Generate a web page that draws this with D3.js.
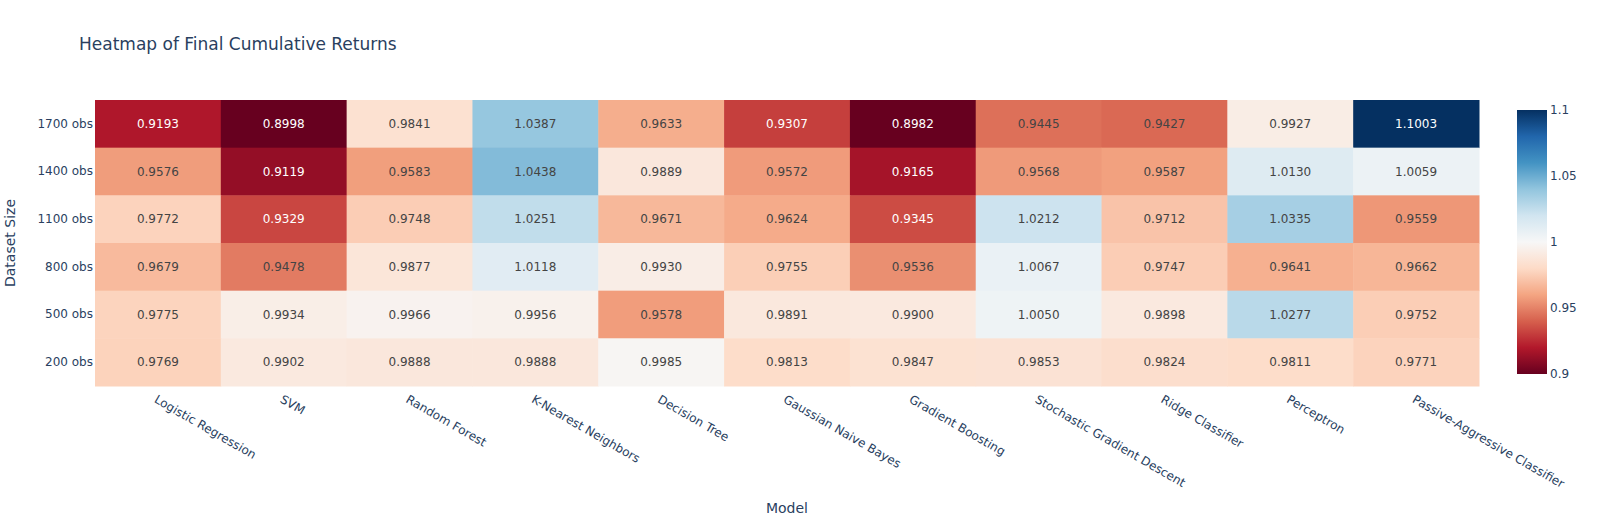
<!DOCTYPE html>
<html>
<head>
<meta charset="utf-8">
<script src="https://cdn.jsdelivr.net/npm/d3@7"></script>
<style>
  body { margin: 0; background: #fff; }
  text { font-family: "DejaVu Sans", verdana, arial, sans-serif; }
</style>
</head>
<body>
<div id="heatmap"></div>
<script>
// Models along the x axis
const models = ["Logistic Regression", "SVM", "Random Forest", "K-Nearest Neighbors", "Decision Tree",
    "Gaussian Naive Bayes", "Gradient Boosting", "Stochastic Gradient Descent", "Ridge Classifier",
    "Perceptron", "Passive-Aggressive Classifier"];

// Dataset sizes, top row first
const sizes = ["1700 obs", "1400 obs", "1100 obs", "800 obs", "500 obs", "200 obs"];

// Final cumulative returns, one row per dataset size
const returns1700 = [0.9193, 0.8998, 0.9841, 1.0387, 0.9633, 0.9307, 0.8982, 0.9445, 0.9427, 0.9927, 1.1003];
const returns1400 = [0.9576, 0.9119, 0.9583, 1.0438, 0.9889, 0.9572, 0.9165, 0.9568, 0.9587, 1.0130, 1.0059];
const returns1100 = [0.9772, 0.9329, 0.9748, 1.0251, 0.9671, 0.9624, 0.9345, 1.0212, 0.9712, 1.0335, 0.9559];
const returns800  = [0.9679, 0.9478, 0.9877, 1.0118, 0.9930, 0.9755, 0.9536, 1.0067, 0.9747, 0.9641, 0.9662];
const returns500  = [0.9775, 0.9934, 0.9966, 0.9956, 0.9578, 0.9891, 0.9900, 1.0050, 0.9898, 1.0277, 0.9752];
const returns200  = [0.9769, 0.9902, 0.9888, 0.9888, 0.9985, 0.9813, 0.9847, 0.9853, 0.9824, 0.9811, 0.9771];
const rows = [returns1700, returns1400, returns1100, returns800, returns500, returns200];

const colorTicks = [0.9, 0.95, 1, 1.05, 1.1];
const rdbu = ["rgb(103,0,31)", "rgb(178,24,43)", "rgb(214,96,77)", "rgb(244,165,130)", "rgb(253,219,199)",
    "rgb(247,247,247)", "rgb(209,229,240)", "rgb(146,197,222)", "rgb(67,147,195)", "rgb(33,102,172)", "rgb(5,48,97)"];

// flatten into cells
const cells = [];
rows.forEach((r, i) => r.forEach((v, j) => cells.push({ size: sizes[i], model: models[j], value: v })));

const W = 1598, H = 525;
const margin = { top: 100, right: 119, bottom: 139, left: 95 };
const width = W - margin.left - margin.right;
const height = H - margin.top - margin.bottom;
const txtColor = "#2a3f5f";
const fontFam = "\"DejaVu Sans\", verdana, arial, sans-serif";

const svg = d3.select("#heatmap").append("svg")
    .attr("width", W)
    .attr("height", H);

const g = svg.append("g")
    .attr("transform", "translate(" + margin.left + "," + margin.top + ")");

const xScale = d3.scaleBand().domain(models).range([0, width]);
const yScale = d3.scaleBand().domain(sizes).range([0, height]);

const colorScale = d3.scaleLinear()
    .domain(d3.range(11).map(i => 0.9 + i * 0.02))
    .range(rdbu)
    .interpolate(d3.interpolateRgb)
    .clamp(true);

// cells
g.selectAll(".cell")
    .data(cells)
    .enter()
    .append("rect")
    .attr("class", "cell")
    .attr("x", d => xScale(d.model))
    .attr("y", d => yScale(d.size))
    .attr("width", xScale.bandwidth() + 0.5)
    .attr("height", yScale.bandwidth() + 0.5)
    .attr("fill", d => colorScale(d.value));

// cell labels, white on dark cells
function textFill(v) {
    const c = d3.rgb(colorScale(v));
    const b = (c.r * 299 + c.g * 587 + c.b * 114) / 1000;
    return b >= 128 ? "#444" : "#fff";
}
g.selectAll(".cell-label")
    .data(cells)
    .enter()
    .append("text")
    .attr("class", "cell-label")
    .attr("x", d => xScale(d.model) + xScale.bandwidth() / 2)
    .attr("y", d => yScale(d.size) + yScale.bandwidth() / 2)
    .attr("dy", "0.35em")
    .attr("text-anchor", "middle")
    .style("font-size", "12px")
    .attr("fill", d => textFill(d.value))
    .text(d => d.value.toFixed(4));

// y axis
const yAxis = g.append("g")
    .call(d3.axisLeft(yScale).tickSize(0).tickPadding(2));
yAxis.select(".domain").remove();
yAxis.selectAll("text")
    .style("font-size", "12px")
    .style("font-family", fontFam)
    .attr("fill", txtColor);

// x axis, labels at 30 degrees
const xAxis = g.append("g")
    .attr("transform", "translate(0," + height + ")")
    .call(d3.axisBottom(xScale).tickSize(0).tickFormat(""));
xAxis.select(".domain").remove();
xAxis.selectAll(".tick")
    .append("text")
    .attr("transform", "translate(0,8) rotate(30)")
    .attr("dy", "0.75em")
    .attr("text-anchor", "start")
    .style("font-size", "12px")
    .attr("fill", txtColor)
    .text(d => d);

// title
svg.append("text")
    .attr("x", 79)
    .attr("y", 50)
    .style("font-size", "17px")
    .attr("fill", txtColor)
    .text("Heatmap of Final Cumulative Returns");

// axis titles
svg.append("text")
    .attr("x", margin.left + width / 2)
    .attr("y", 513)
    .attr("text-anchor", "middle")
    .style("font-size", "14px")
    .attr("fill", txtColor)
    .text("Model");

svg.append("text")
    .attr("transform", "translate(15," + (margin.top + height / 2) + ") rotate(-90)")
    .attr("text-anchor", "middle")
    .style("font-size", "14px")
    .attr("fill", txtColor)
    .text("Dataset Size");

// colorbar
const cbX = 1517, cbW = 30, cbTop = 110, cbBottom = 374;
const defs = svg.append("defs");
const grad = defs.append("linearGradient")
    .attr("id", "cbgrad")
    .attr("x1", "0%").attr("x2", "0%")
    .attr("y1", "100%").attr("y2", "0%");
rdbu.forEach((c, i) => {
    grad.append("stop")
        .attr("offset", (i * 10) + "%")
        .attr("stop-color", c);
});
svg.append("rect")
    .attr("x", cbX)
    .attr("y", cbTop)
    .attr("width", cbW)
    .attr("height", cbBottom - cbTop)
    .attr("fill", "url(#cbgrad)");

const cbScale = d3.scaleLinear().domain([0.9, 1.1]).range([cbBottom, cbTop]);
const cbAxis = svg.append("g")
    .attr("transform", "translate(" + (cbX + cbW) + ",0)")
    .call(d3.axisRight(cbScale).tickValues(colorTicks).tickSize(0).tickPadding(3).tickFormat(d3.format("")));
cbAxis.select(".domain").remove();
cbAxis.selectAll("text")
    .style("font-size", "12px")
    .style("font-family", fontFam)
    .attr("fill", txtColor);
</script>
</body>
</html>
